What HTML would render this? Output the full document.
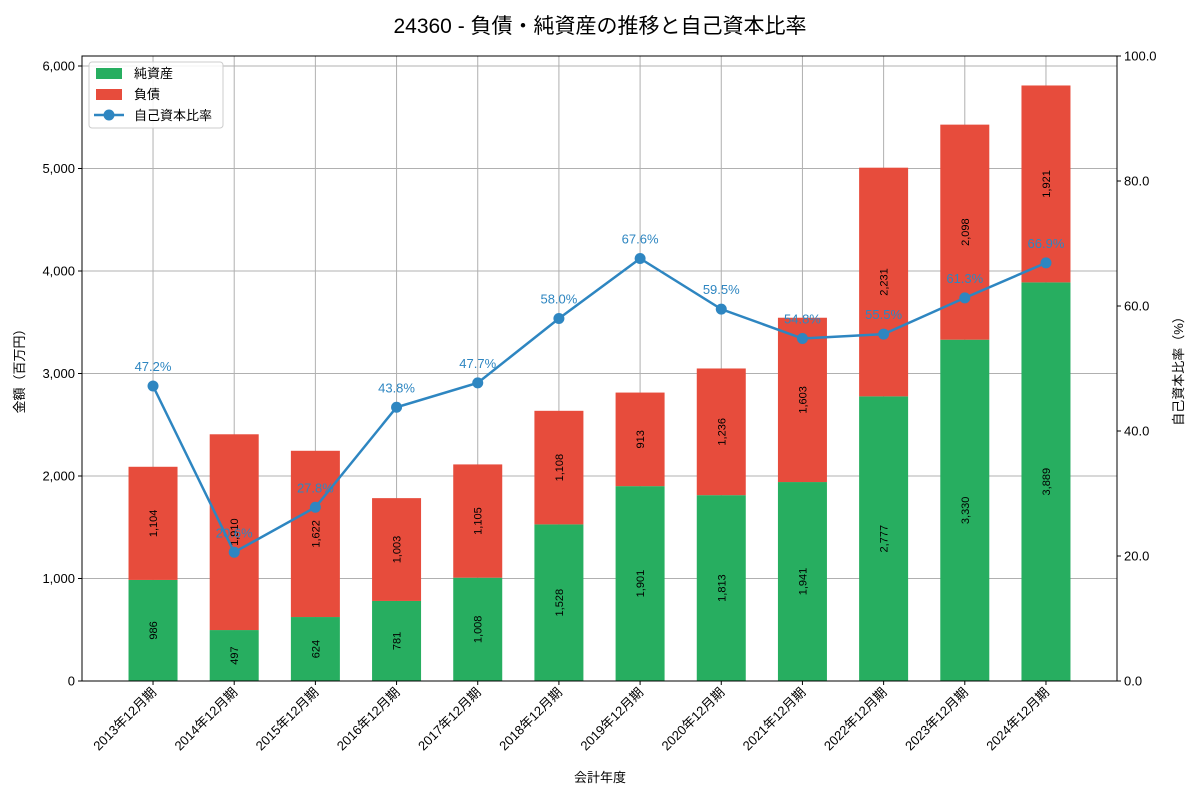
<!DOCTYPE html>
<html><head><meta charset="utf-8">
<style>
body{margin:0;background:#fff;}
svg{font-family:"Liberation Sans","Noto Sans CJK JP",sans-serif;}
</style></head>
<body>
<svg id="chart" width="1200" height="800" xmlns="http://www.w3.org/2000/svg">
<rect width="1200" height="800" fill="#fff"/>
<text x="600" y="33" text-anchor="middle" font-size="21" fill="#000">24360 - 負債・純資産の推移と自己資本比率</text>
<g id="grid"></g><g id="bars"></g><g id="line"></g><g id="axes"></g>
<text x="600" y="782" text-anchor="middle" font-size="13">会計年度</text>
<text transform="translate(24,368) rotate(-90)" text-anchor="middle" font-size="13">金額（百万円）</text>
<text transform="translate(1183,368) rotate(-90)" text-anchor="middle" font-size="13">自己資本比率（%）</text>
<g>
<rect x="89" y="62" width="134" height="66" fill="#fff" fill-opacity="0.85" stroke="#ccc" rx="3"/>
<rect x="96" y="68" width="26" height="11" fill="#27ae60"/>
<text x="134" y="78" font-size="13">純資産</text>
<rect x="96" y="89" width="26" height="11" fill="#e74c3c"/>
<text x="134" y="99" font-size="13">負債</text>
<line x1="94" y1="115" x2="124" y2="115" stroke="#2e86c1" stroke-width="2.5"/>
<circle cx="109" cy="115" r="5.5" fill="#2e86c1"/>
<text x="134" y="120" font-size="13">自己資本比率</text>
</g>
</svg>
<script>
const categories=["2013年12月期","2014年12月期","2015年12月期","2016年12月期","2017年12月期","2018年12月期","2019年12月期","2020年12月期","2021年12月期","2022年12月期","2023年12月期","2024年12月期"];
const equity=[986,497,624,781,1008,1528,1901,1813,1941,2777,3330,3889];
const liabilities=[1104,1910,1622,1003,1105,1108,913,1236,1603,2231,2098,1921];
const ratio=[47.2,20.6,27.8,43.8,47.7,58.0,67.6,59.5,54.8,55.5,61.3,66.9];
const yTicks=[0,1000,2000,3000,4000,5000,6000];
const y2Ticks=[0,20,40,60,80,100];

const L=82,R=1117,T=56,B=681;
const n=categories.length, step=(R-L)/(n+0.75);
const xs=i=>L+(i+0.875)*step;
const yL=v=>B-v/6097.6*(B-T);
const yR=v=>B-v/100*(B-T);
const NS="http://www.w3.org/2000/svg";
function mk(tag,attrs,parent,text){const e=document.createElementNS(NS,tag);for(const k in attrs)e.setAttribute(k,attrs[k]);if(text!==undefined)e.textContent=text;parent.appendChild(e);return e;}
const fmt=v=>v.toLocaleString("en-US");
const grid=document.getElementById("grid"),bars=document.getElementById("bars"),line=document.getElementById("line"),axes=document.getElementById("axes");

yTicks.forEach(v=>{
  const g=mk("line",{x1:L,x2:R,y1:yL(v),y2:yL(v),stroke:"#b0b0b0","stroke-width":1},grid);
  
  
  mk("line",{x1:L-4,x2:L,y1:yL(v),y2:yL(v),stroke:"#000"},axes);
  const t=mk("text",{x:L-7,y:yL(v)+4.5,"text-anchor":"end","font-size":13},axes,fmt(v));
  
  
});
y2Ticks.forEach(v=>{
  mk("line",{x1:R,x2:R+4,y1:yR(v),y2:yR(v),stroke:"#000"},axes);
  const t=mk("text",{x:R+7,y:yR(v)+4.5,"font-size":13},axes,v.toFixed(1));
  
  
});
categories.forEach((c,i)=>{
  const x=xs(i);
  const g=mk("line",{x1:x,x2:x,y1:T,y2:B,stroke:"#b0b0b0","stroke-width":1},grid);
  
  
  mk("line",{x1:x,x2:x,y1:B,y2:B+4,stroke:"#000"},axes);
  const t=mk("text",{transform:`translate(${x+4},${B+12}) rotate(-45)`,"text-anchor":"end","font-size":13},axes,c);
  
  
  const bw=49;
  const e=mk("rect",{x:x-bw/2,y:yL(equity[i]),width:bw,height:B-yL(equity[i]),fill:"#27ae60"},bars);
  
  
  const top=equity[i]+liabilities[i];
  const l=mk("rect",{x:x-bw/2,y:yL(top),width:bw,height:yL(equity[i])-yL(top),fill:"#e74c3c"},bars);
  
  
  const ye=(B+yL(equity[i]))/2, yl=(yL(equity[i])+yL(top))/2;
  const t1=mk("text",{transform:`translate(${x+4},${ye}) rotate(-90)`,"text-anchor":"middle","font-size":11},bars,fmt(equity[i]));
  
  
  const t2=mk("text",{transform:`translate(${x+4},${yl}) rotate(-90)`,"text-anchor":"middle","font-size":11},bars,fmt(liabilities[i]));
  
  
});
const pl=mk("polyline",{points:ratio.map((v,i)=>xs(i)+","+yR(v)).join(" "),fill:"none",stroke:"#2e86c1","stroke-width":2.5},line);


ratio.forEach((v,i)=>{
  const c=mk("circle",{cx:xs(i),cy:yR(v),r:5.5,fill:"#2e86c1"},line);
  
  
  const t=mk("text",{x:xs(i),y:yR(v)-15,"text-anchor":"middle","font-size":13,fill:"#2e86c1"},line,v.toFixed(1)+"%");
  
  
});
mk("rect",{x:L,y:T,width:R-L,height:B-T,fill:"none",stroke:"#000","stroke-width":1},axes);
</script>
</body></html>
